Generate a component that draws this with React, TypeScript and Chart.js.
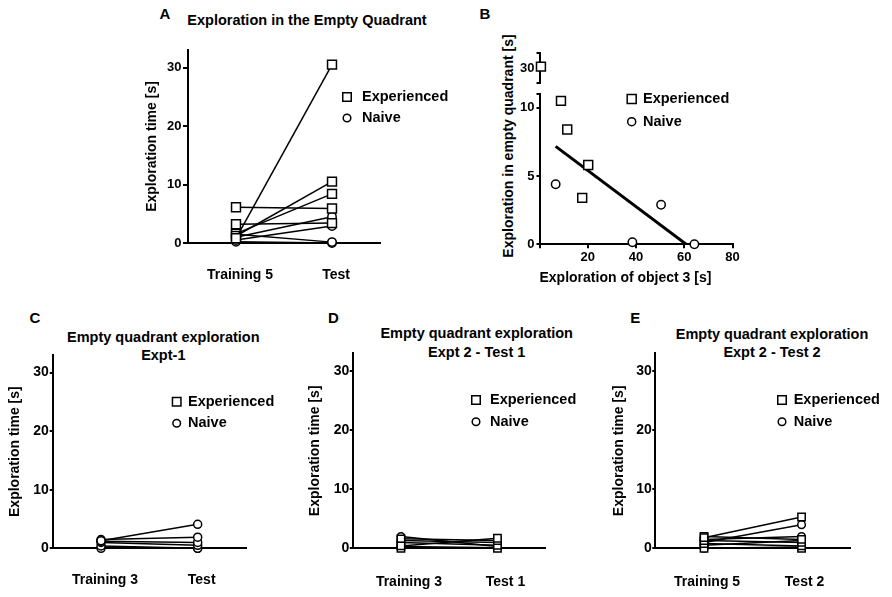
import React, { useEffect, useRef } from 'react';
import Chart from 'chart.js/auto';

const FONT = 'Arial, "Liberation Sans", Helvetica, sans-serif';
const legendLabels = ['Experienced', 'Naive'];
const yTicksTime = [0, 10, 20, 30];

// A - exploration in the empty quadrant, each entry is one animal
const catsA = ['Training 5', 'Test'];
const expTrainA = [0.8, 1.2, 1.6, 6.1, 3.2];
const expTestA = [30.5, 10.5, 8.4, 5.9, 3.4];
const naiveTrainA = [1.0, 0.5, 1.5, 0.2];
const naiveTestA = [4.5, 2.9, 0.15, 0];

// B - object 3 exploration vs empty quadrant exploration
const expObjB = [0.6, 8.9, 11.5, 20.2, 17.7];
const expQuadB = [30.1, 10.5, 8.4, 5.8, 3.4];
const naiveObjB = [6.7, 38.5, 50.4, 64.2];
const naiveQuadB = [4.4, 0.15, 2.9, 0];
const xTicksB = [0, 20, 40, 60, 80];
const yTicksB = [0, 5, 10, 11];
const yTicksBTop = [29, 30, 31];

// C - Expt-1
const catsC = ['Training 3', 'Test'];
const expTrainC: number[] = [];
const expTestC: number[] = [];
const naiveTrainC = [1.3, 1.5, 1.2, 1.0, 0.4, 0];
const naiveTestC = [4.1, 1.9, 1.0, 0.5, 0, 0];

// D - Expt 2, test 1
const catsD = ['Training 3', 'Test 1'];
const expTrainD = [0.4, 1.6, 1.0, 0];
const expTestD = [1.7, 1.3, 0.5, 0];
const naiveTrainD = [2.0, 1.3, 0.3];
const naiveTestD = [0.3, 1.0, 0.1];

// E - Expt 2, test 2
const catsE = ['Training 5', 'Test 2'];
const expTrainE = [1.8, 2.0, 1.3, 0.8, 0];
const expTestE = [5.3, 1.5, 1.0, 0.4, 0];
const naiveTrainE = [1.0, 1.5, 0.5, 0];
const naiveTestE = [4.0, 2.0, 1.3, 0.2];

// canvas box (x,y,w,h) and wanted chart area (l,t,r,b), page pixels
type Frame = { x: number; y: number; w: number; h: number; l: number; t: number; r: number; b: number };
type LegendPos = { x: number; y: number; tx: number; gap: number; sq: number; cr: number };

const frameA: Frame = { x: 130, y: 40, w: 330, h: 262, l: 188, t: 50, r: 380, b: 243 };
const frameBTop: Frame = { x: 490, y: 40, w: 290, h: 55, l: 539.5, t: 53, r: 732.5, b: 83.3 };
const frameB: Frame = { x: 490, y: 80, w: 290, h: 210, l: 539.5, t: 94, r: 732.5, b: 244.3 };
const frameC: Frame = { x: 0, y: 340, w: 300, h: 257, l: 52.7, t: 355, r: 246, b: 548.3 };
const frameD: Frame = { x: 300, y: 338, w: 292, h: 259, l: 352.7, t: 353.3, r: 545.7, b: 548.3 };
const frameE: Frame = { x: 600, y: 338, w: 292, h: 259, l: 655.3, t: 353.3, r: 850.3, b: 548.3 };

const black = '#000';
const axisBorder = { display: true, color: black, width: 2 };
const bold = (size: number) => ({ family: FONT, size, weight: 'bold' as const });

function padOf(f: Frame, withX: boolean) {
  return {
    padding: {
      left: 0,
      top: f.t - f.y,
      right: f.x + f.w - f.r,
      bottom: withX ? 0 : f.y + f.h - f.b,
    },
  };
}

function legendPlugin(f: Frame, p: LegendPos) {
  return {
    id: 'panelLegend',
    afterDraw(chart: any) {
      const ctx = chart.ctx as CanvasRenderingContext2D;
      ctx.save();
      legendLabels.forEach((label, i) => {
        const cx = p.x - f.x;
        const cy = p.y - f.y + i * p.gap;
        ctx.beginPath();
        if (i === 0) ctx.rect(cx - p.sq / 2, cy - p.sq / 2, p.sq, p.sq);
        else ctx.arc(cx, cy, p.cr, 0, Math.PI * 2);
        ctx.fillStyle = '#fff';
        ctx.fill();
        ctx.lineWidth = 1.5;
        ctx.strokeStyle = black;
        ctx.stroke();
        ctx.fillStyle = black;
        ctx.font = `bold 14.5px ${FONT}`;
        ctx.textAlign = 'left';
        ctx.textBaseline = 'middle';
        ctx.fillText(label, p.tx - f.x, cy);
      });
      ctx.restore();
    },
  };
}

function marks(style: string, radius: number) {
  return {
    pointStyle: style,
    pointRadius: radius,
    pointHoverRadius: radius,
    pointBackgroundColor: '#fff',
    pointBorderColor: black,
    pointBorderWidth: 1.5,
    clip: false,
  };
}

function subjects(train: number[], test: number[], style: string, radius: number) {
  return train.map((v, i) => ({
    data: [{ x: 1, y: v }, { x: 2, y: test[i] }],
    borderColor: black,
    borderWidth: 1.5,
    tension: 0,
    ...marks(style, radius),
  }));
}

type PairedSpec = {
  frame: Frame;
  cats: string[];
  expTrain: number[];
  expTest: number[];
  naiveTrain: number[];
  naiveTest: number[];
  tickSize: number;
  tickLen: number;
  tickPad: number;
  xPad: number;
  labelOffset: number;
  titlePad: number;
  sqR: number;
  cR: number;
  legend: LegendPos;
};

function pairedConfig(s: PairedSpec): any {
  const f = s.frame;
  return {
    type: 'line',
    data: {
      datasets: [
        ...subjects(s.expTrain, s.expTest, 'rect', s.sqR),
        ...subjects(s.naiveTrain, s.naiveTest, 'circle', s.cR),
      ],
    },
    options: {
      animation: false,
      responsive: false,
      events: [],
      layout: padOf(f, true),
      plugins: { legend: { display: false }, tooltip: { enabled: false } },
      scales: {
        x: {
          type: 'linear',
          min: 0.5,
          max: 2.5,
          afterBuildTicks: (ax: any) => {
            ax.ticks = s.cats.map((_, i) => ({ value: i + 1 }));
          },
          afterFit: (ax: any) => {
            ax.height = f.y + f.h - f.b;
          },
          grid: { display: false, drawTicks: false },
          border: axisBorder,
          ticks: {
            color: black,
            font: bold(14),
            padding: s.xPad,
            labelOffset: s.labelOffset,
            maxRotation: 0,
            autoSkip: false,
            callback: (v: number) => s.cats[Math.round(v) - 1] ?? '',
          },
        },
        y: {
          min: 0,
          max: 33,
          afterBuildTicks: (ax: any) => {
            ax.ticks = yTicksTime.map((v) => ({ value: v }));
          },
          afterFit: (ax: any) => {
            ax.width = f.l - f.x;
          },
          grid: { drawOnChartArea: false, drawTicks: true, tickLength: s.tickLen, color: black, lineWidth: 2 },
          border: axisBorder,
          ticks: {
            color: black,
            font: bold(s.tickSize),
            padding: s.tickPad,
            autoSkip: false,
            callback: (v: number) => String(v),
          },
          title: {
            display: true,
            text: 'Exploration time [s]',
            color: black,
            font: bold(14),
            padding: { top: s.titlePad, bottom: 0 },
          },
        },
      },
    },
    plugins: [legendPlugin(f, s.legend)],
  };
}

const pts = (xs: number[], ys: number[]) => xs.map((x, i) => ({ x, y: ys[i] }));

function fitLine(points: { x: number; y: number }[]) {
  const n = points.length;
  const mx = points.reduce((a, p) => a + p.x, 0) / n;
  const my = points.reduce((a, p) => a + p.y, 0) / n;
  let sxy = 0;
  let sxx = 0;
  points.forEach((p) => {
    sxy += (p.x - mx) * (p.y - my);
    sxx += (p.x - mx) * (p.x - mx);
  });
  const slope = sxy / sxx;
  const icpt = my - slope * mx;
  const lo = Math.min(...points.map((p) => p.x));
  const hi = Math.max(...points.map((p) => p.x));
  return [
    { x: lo, y: icpt + slope * lo },
    { x: hi, y: icpt + slope * hi },
  ];
}

function scatterLowerConfig(): any {
  const f = frameB;
  const yMax = yTicksB[yTicksB.length - 1];
  const exp = pts(expObjB, expQuadB).filter((p) => p.y <= yMax);
  const naive = pts(naiveObjB, naiveQuadB).filter((p) => p.y <= yMax);
  return {
    type: 'scatter',
    data: {
      datasets: [
        { data: exp, ...marks('rect', 6.3) },
        { data: naive, ...marks('circle', 4.2) },
        {
          type: 'line',
          data: fitLine([...exp, ...naive]),
          showLine: true,
          borderColor: black,
          borderWidth: 3,
          pointRadius: 0,
        },
      ],
    },
    options: {
      animation: false,
      responsive: false,
      events: [],
      layout: padOf(f, true),
      plugins: { legend: { display: false }, tooltip: { enabled: false } },
      scales: {
        x: {
          type: 'linear',
          min: 0,
          max: 80,
          afterBuildTicks: (ax: any) => {
            ax.ticks = xTicksB.map((v) => ({ value: v }));
          },
          afterFit: (ax: any) => {
            ax.height = f.y + f.h - f.b;
          },
          grid: { drawOnChartArea: false, drawTicks: true, tickLength: 4, color: black, lineWidth: 2 },
          border: axisBorder,
          ticks: {
            color: black,
            font: bold(13),
            padding: 1,
            maxRotation: 0,
            autoSkip: false,
            callback: (v: number) => (v === 0 ? '' : String(v)),
          },
          title: {
            display: true,
            text: 'Exploration of object 3 [s]',
            align: 'start',
            color: black,
            font: bold(14),
            padding: { top: 0, bottom: 3.6 },
          },
        },
        y: {
          min: 0,
          max: yMax,
          afterBuildTicks: (ax: any) => {
            ax.ticks = yTicksB.map((v) => ({ value: v }));
          },
          afterFit: (ax: any) => {
            ax.width = f.l - f.x;
          },
          grid: { drawOnChartArea: false, drawTicks: true, tickLength: 3, color: black, lineWidth: 2 },
          border: axisBorder,
          ticks: {
            color: black,
            font: bold(13),
            padding: 2,
            autoSkip: false,
            callback: (v: number) => (v === yMax ? '' : String(v)),
          },
        },
      },
    },
    plugins: [legendPlugin(f, { x: 631.7, y: 99, tx: 643, gap: 22.7, sq: 9, cr: 4 })],
  };
}

function scatterUpperConfig(): any {
  const f = frameBTop;
  const yMin = yTicksBTop[0];
  const yMax = yTicksBTop[yTicksBTop.length - 1];
  const exp = pts(expObjB, expQuadB).filter((p) => p.y >= yMin);
  return {
    type: 'scatter',
    data: { datasets: [{ data: exp, ...marks('rect', 6.3) }] },
    options: {
      animation: false,
      responsive: false,
      events: [],
      layout: padOf(f, false),
      plugins: { legend: { display: false }, tooltip: { enabled: false } },
      scales: {
        x: { type: 'linear', min: 0, max: 80, display: false },
        y: {
          min: yMin,
          max: yMax,
          afterBuildTicks: (ax: any) => {
            ax.ticks = yTicksBTop.map((v) => ({ value: v }));
          },
          afterFit: (ax: any) => {
            ax.width = f.l - f.x;
          },
          grid: { drawOnChartArea: false, drawTicks: true, tickLength: 3, color: black, lineWidth: 2 },
          border: axisBorder,
          ticks: {
            color: black,
            font: bold(13),
            padding: 2,
            autoSkip: false,
            callback: (v: number) => (v === 30 ? '30' : ''),
          },
        },
      },
    },
  };
}

function Panel({ frame, build }: { frame: Frame; build: () => any }) {
  const ref = useRef<HTMLCanvasElement | null>(null);
  useEffect(() => {
    if (!ref.current) return;
    const chart = new Chart(ref.current, build());
    return () => chart.destroy();
  }, []);
  return (
    <canvas
      ref={ref}
      width={frame.w}
      height={frame.h}
      style={{ position: 'absolute', left: frame.x, top: frame.y, width: frame.w, height: frame.h }}
    />
  );
}

function Txt({ x, y, size = 14.5, rotate = false, children }: { x: number; y: number; size?: number; rotate?: boolean; children: React.ReactNode }) {
  return (
    <div
      style={{
        position: 'absolute',
        left: x,
        top: y,
        transform: `translate(-50%, -50%)${rotate ? ' rotate(-90deg)' : ''}`,
        whiteSpace: 'nowrap',
        fontFamily: FONT,
        fontWeight: 'bold',
        fontSize: size,
        lineHeight: 1,
        color: '#000',
      }}
    >
      {children}
    </div>
  );
}

export default function App() {
  return (
    <div style={{ position: 'fixed', left: 0, top: 0, width: 892, height: 597, background: '#fff', overflow: 'hidden' }}>
      <Txt x={165} y={13} size={15}>A</Txt>
      <Txt x={307} y={20}>Exploration in the Empty Quadrant</Txt>
      <Txt x={485} y={13} size={15}>B</Txt>
      <Txt x={508} y={146} size={14} rotate>Exploration in empty quadrant [s]</Txt>
      <Txt x={35} y={316.7} size={15}>C</Txt>
      <Txt x={163.3} y={336.7}>Empty quadrant exploration</Txt>
      <Txt x={163.3} y={355}>Expt-1</Txt>
      <Txt x={333.3} y={316.7} size={15}>D</Txt>
      <Txt x={476.7} y={333.3}>Empty quadrant exploration</Txt>
      <Txt x={476.7} y={351.7}>Expt 2 - Test 1</Txt>
      <Txt x={635.3} y={316.7} size={15}>E</Txt>
      <Txt x={772} y={334.3}>Empty quadrant exploration</Txt>
      <Txt x={772} y={351.7}>Expt 2 - Test 2</Txt>

      <Panel
        frame={frameA}
        build={() =>
          pairedConfig({
            frame: frameA, cats: catsA,
            expTrain: expTrainA, expTest: expTestA, naiveTrain: naiveTrainA, naiveTest: naiveTestA,
            tickSize: 13, tickLen: 5, tickPad: 1.5, xPad: 23.6, labelOffset: 4, titlePad: 13.3,
            sqR: 6.3, cR: 4.2,
            legend: { x: 347, y: 97, tx: 362, gap: 21, sq: 8.5, cr: 3.8 },
          })
        }
      />
      <Panel frame={frameBTop} build={scatterUpperConfig} />
      <Panel frame={frameB} build={scatterLowerConfig} />
      <Panel
        frame={frameC}
        build={() =>
          pairedConfig({
            frame: frameC, cats: catsC,
            expTrain: expTrainC, expTest: expTestC, naiveTrain: naiveTrainC, naiveTest: naiveTestC,
            tickSize: 14, tickLen: 3, tickPad: 1, xPad: 23.3, labelOffset: 4, titlePad: 6.6,
            sqR: 5.5, cR: 4,
            legend: { x: 176.7, y: 401.7, tx: 188, gap: 21.6, sq: 8.5, cr: 3.8 },
          })
        }
      />
      <Panel
        frame={frameD}
        build={() =>
          pairedConfig({
            frame: frameD, cats: catsD,
            expTrain: expTrainD, expTest: expTestD, naiveTrain: naiveTrainD, naiveTest: naiveTestD,
            tickSize: 14, tickLen: 3, tickPad: 0.5, xPad: 25, labelOffset: 8, titlePad: 6.6,
            sqR: 5.2, cR: 3.8,
            legend: { x: 476, y: 400, tx: 490, gap: 21.7, sq: 8.5, cr: 3.8 },
          })
        }
      />
      <Panel
        frame={frameE}
        build={() =>
          pairedConfig({
            frame: frameE, cats: catsE,
            expTrain: expTrainE, expTest: expTestE, naiveTrain: naiveTrainE, naiveTest: naiveTestE,
            tickSize: 14, tickLen: 3, tickPad: 0.5, xPad: 25, labelOffset: 3, titlePad: 10.3,
            sqR: 5.2, cR: 3.8,
            legend: { x: 782, y: 400, tx: 793.7, gap: 21.7, sq: 8.5, cr: 3.8 },
          })
        }
      />
    </div>
  );
}
